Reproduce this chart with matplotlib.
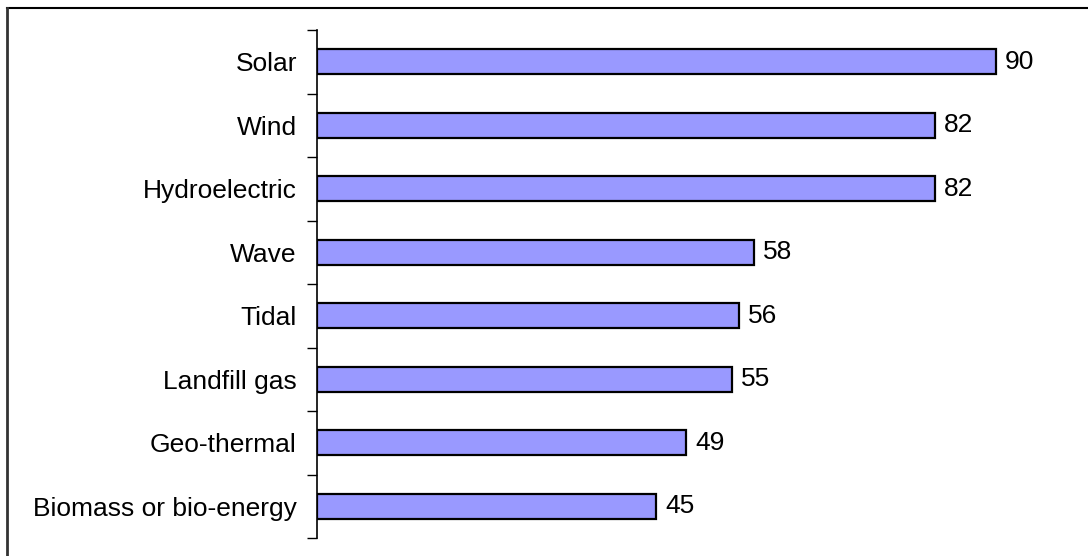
import matplotlib

matplotlib.use("Agg")

import matplotlib.pyplot as plt
from matplotlib.lines import Line2D
from matplotlib.ticker import FixedLocator
import numpy as np

categories = [
    "Solar",
    "Wind",
    "Hydroelectric",
    "Wave",
    "Tidal",
    "Landfill gas",
    "Geo-thermal",
    "Biomass or bio-energy",
]
scores = [90, 82, 82, 58, 56, 55, 49, 45]

BAR_COLOR = "#9999FF"
FONT_SIZE = 19

plt.rcParams["font.family"] = ["Liberation Sans", "DejaVu Sans"]

figure = plt.figure(figsize=(10.88, 5.56), dpi=100)
axis = figure.add_axes([317 / 1088, 18 / 556, 754 / 1088, 508 / 556])

positions = np.arange(len(categories))
bars = axis.barh(
    positions,
    scores,
    height=0.4,
    color=BAR_COLOR,
    edgecolor="black",
    linewidth=1.6,
)

axis.set_xlim(0, 100)
axis.set_ylim(len(categories) - 0.5, -0.5)

# category names sit between the boundary tick marks
axis.yaxis.set_major_locator(FixedLocator(np.arange(len(categories) + 1) - 0.5))
axis.yaxis.set_minor_locator(FixedLocator(positions))
axis.yaxis.set_major_formatter(plt.NullFormatter())
axis.set_yticks(positions, labels=categories, minor=True)
axis.tick_params(axis="y", which="major", direction="out", length=7, width=1)
axis.tick_params(axis="y", which="minor", length=0, pad=14.5, labelsize=FONT_SIZE)
axis.set_xticks([])

for side in ("top", "right", "bottom"):
    axis.spines[side].set_visible(False)
axis.spines["left"].set_linewidth(1.2)

for bar, value in zip(bars, scores):
    axis.text(
        bar.get_width() + 1.2,
        bar.get_y() + bar.get_height() / 2,
        f"{value}",
        ha="left",
        va="center",
        fontsize=FONT_SIZE,
    )

# outer frame along the top and left edges
figure.add_artist(Line2D([7 / 1088, 1], [1 - 8 / 556, 1 - 8 / 556],
                         color="black", linewidth=1.5,
                         transform=figure.transFigure))
figure.add_artist(Line2D([7 / 1088, 7 / 1088], [0, 1 - 8 / 556],
                         color="#333333", linewidth=2,
                         transform=figure.transFigure))

figure.savefig("out.png", dpi=100)
plt.close(figure)
